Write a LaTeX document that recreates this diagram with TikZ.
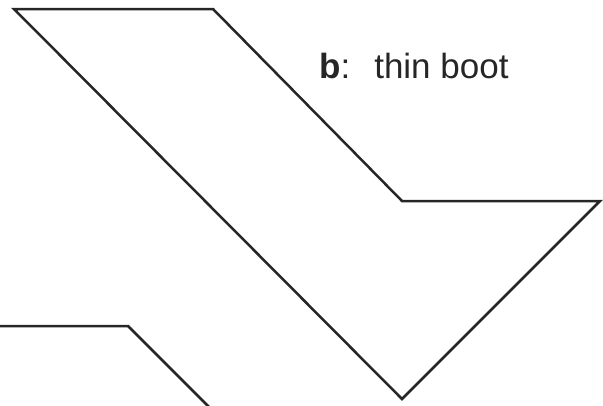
\documentclass[tikz,border=0pt]{standalone}
\usepackage{fontspec}
\setmainfont{Liberation Sans}
\begin{document}
\begin{tikzpicture}[x=1pt,y=-1pt,
  outline/.style={draw=black!85,line width=2.5pt,line join=miter},
  label/.style={font=\fontsize{35}{40}\selectfont,text=black!85,inner sep=0pt,anchor=base west}]
\useasboundingbox (0,0) rectangle (603,405);
\clip (0,0) rectangle (603,405);
\coordinate (p1) at (14,9);
\coordinate (p2) at (213,9);
\coordinate (p3) at (402,201);
\coordinate (p4) at (600,201);
\coordinate (p5) at (402,399);
\draw[outline] (p1) -- (p2) -- (p3) -- (p4) -- (p5) -- cycle;
\coordinate (q1) at (-5,326);
\coordinate (q2) at (128,326);
\coordinate (q3) at (215,413);
\draw[outline] (q1) -- (q2) -- (q3);
\node[label] (lbl) at (319,78) {\textbf{b}:\hspace{24pt}thin boot};
\end{tikzpicture}
\end{document}
